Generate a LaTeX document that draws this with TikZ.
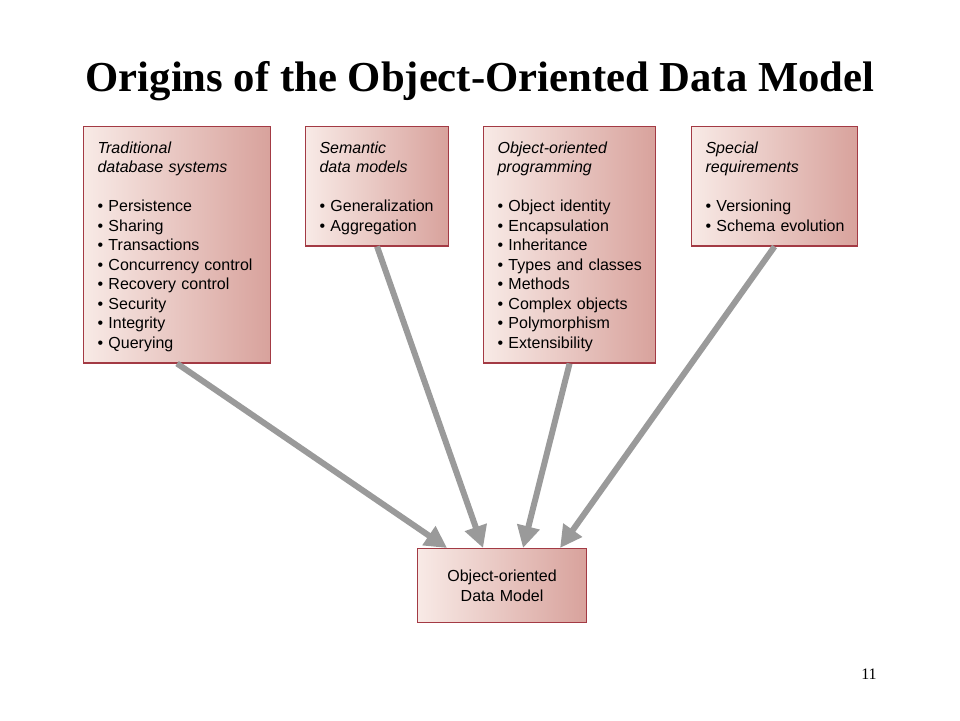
\documentclass[tikz,border=0pt]{standalone}
\usepackage{fontspec}
\setmainfont{Liberation Serif}
\newfontfamily\boxfont{Liberation Sans}
\usepackage{tikz}
\usetikzlibrary{arrows.meta}
\definecolor{boxred}{HTML}{A33A44}
\definecolor{boxlight}{HTML}{F8EAE6}
\definecolor{boxdark}{HTML}{D8A29C}
\definecolor{arrowgray}{HTML}{9A9A9A}
\newcommand{\bul}[1]{\mbox{•\ #1}\rule[-3.4pt]{0pt}{0pt}}
\newcommand{\head}[2]{\rule{0pt}{15pt}\textit{#1}\\ \textit{#2}\\[19.5pt]}

\begin{document}
\begin{tikzpicture}[x=1pt, y=-1pt,
    originbox/.style={draw=boxred, line width=1.1pt, left color=boxlight, right color=boxdark,
      anchor=north west, inner xsep=14pt, inner ysep=11.5pt, align=left,
      font=\boxfont\fontsize{16}{19.5}\selectfont},
    feed/.style={draw=arrowgray, line width=6pt, -{Triangle[length=22pt, width=22pt]}}]
  \useasboundingbox (0,0) rectangle (960,720);

  \node[anchor=base, font=\fontsize{42.7}{50}\selectfont\bfseries] (title) at (480,91)
    {Origins of the Object-Oriented Data Model};

  % the four sources
  \node[originbox, text width=159pt, minimum height=236pt] (trad) at (83,126) {%
    \head{Traditional}{database systems}
    \bul{Persistence}\\ \bul{Sharing}\\ \bul{Transactions}\\ \bul{Concurrency control}\\
    \bul{Recovery control}\\ \bul{Security}\\ \bul{Integrity}\\ \bul{Querying}};
  \node[originbox, text width=115pt, minimum height=119pt] (sem) at (305,126) {%
    \head{Semantic}{data models}
    \bul{Generalization}\\ \bul{Aggregation}};
  \node[originbox, text width=144pt, minimum height=236pt] (oop) at (483,126) {%
    \head{Object-oriented}{programming}
    \bul{Object identity}\\ \bul{Encapsulation}\\ \bul{Inheritance}\\ \bul{Types and classes}\\
    \bul{Methods}\\ \bul{Complex objects}\\ \bul{Polymorphism}\\ \bul{Extensibility}};
  \node[originbox, text width=138pt, minimum height=119pt] (spec) at (691,126) {%
    \head{Special}{requirements}
    \bul{Versioning}\\ \bul{Schema evolution}};

  % the result
  \node[originbox, inner ysep=13pt, align=center, text width=141pt, minimum height=74pt]
    (model) at (417,548) {Object-oriented\\ Data Model};

  \draw[feed] (trad.south) -- ([xshift=-55pt]model.north);
  \draw[feed] (sem.south) -- ([xshift=-19pt]model.north);
  \draw[feed] (oop.south) -- ([xshift=21pt]model.north);
  \draw[feed] (spec.south) -- ([xshift=58pt]model.north);

  \node[anchor=base, font=\fontsize{16}{19}\selectfont] (page) at (869,679) {11};
\end{tikzpicture}
\end{document}
